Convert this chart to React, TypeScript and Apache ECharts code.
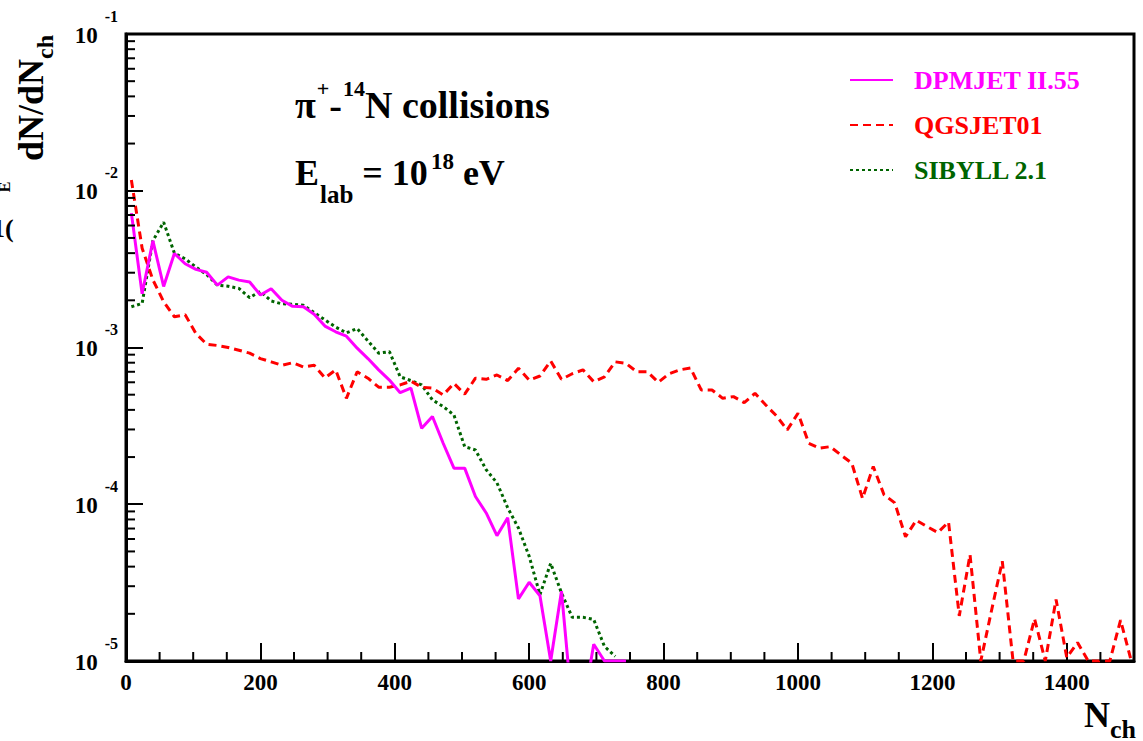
import React, { useEffect, useRef } from "react";
import * as echarts from "echarts";

const SERIF = '"Liberation Serif", "Times New Roman", serif';

// bin centres (N_ch), bin width 16
const nch = [
  8, 24, 40, 56, 72, 88, 104, 120, 136, 152,
  168, 184, 200, 216, 232, 248, 264, 280, 296, 312,
  328, 344, 360, 376, 392, 408, 424, 440, 456, 472,
  488, 504, 520, 536, 552, 568, 584, 600, 616, 632,
  648, 664, 680, 696, 712, 728, 744, 760, 776, 792,
  808, 824, 840, 856, 872, 888, 904, 920, 936, 952,
  968, 984, 1000, 1016, 1032, 1048, 1064, 1080, 1096, 1112,
  1128, 1144, 1160, 1176, 1192, 1208, 1224, 1240, 1256, 1272,
  1288, 1304, 1320, 1336, 1352, 1368, 1384, 1400, 1416, 1432,
  1448, 1464, 1480, 1496,
];

const dpmjet = [
  7.2e-3, 2.2e-3, 4.8e-3, 2.45e-3, 3.98e-3, 3.42e-3, 3.15e-3, 3.02e-3, 2.5e-3, 2.82e-3,
  2.69e-3, 2.62e-3, 2.16e-3, 2.37e-3, 2.0e-3, 1.83e-3, 1.82e-3, 1.63e-3, 1.37e-3, 1.26e-3,
  1.18e-3, 9.9e-4, 8.5e-4, 7.2e-4, 6.2e-4, 5.15e-4, 5.5e-4, 3.05e-4, 3.63e-4, 2.45e-4,
  1.7e-4, 1.7e-4, 1.12e-4, 8.8e-5, 6.3e-5, 8.2e-5, 2.49e-5, 3.18e-5, 2.61e-5, 1.0e-5,
  2.79e-5, 5e-6, 5e-6, 1.28e-5, 1.0e-5, 1.0e-5, 1.0e-5,
];

const qgsjet = [
  1.17e-2, 4.3e-3, 2.7e-3, 1.96e-3, 1.57e-3, 1.62e-3, 1.23e-3, 1.05e-3, 1.03e-3, 1.0e-3,
  9.6e-4, 9.2e-4, 8.5e-4, 8.1e-4, 7.7e-4, 8.0e-4, 7.5e-4, 7.7e-4, 6.4e-4, 7.2e-4,
  4.74e-4, 7.0e-4, 6.37e-4, 5.58e-4, 5.58e-4, 5.77e-4, 6.1e-4, 5.58e-4, 5.5e-4, 4.98e-4,
  5.9e-4, 5.04e-4, 6.37e-4, 6.27e-4, 6.68e-4, 6.15e-4, 7.37e-4, 6.2e-4, 6.58e-4, 8.2e-4,
  6.27e-4, 6.8e-4, 7.2e-4, 6.05e-4, 6.5e-4, 8.1e-4, 7.93e-4, 7.0e-4, 7.0e-4, 6.0e-4,
  6.8e-4, 7.2e-4, 7.4e-4, 5.36e-4, 5.36e-4, 4.74e-4, 4.86e-4, 4.45e-4, 5.1e-4, 4.3e-4,
  3.66e-4, 2.98e-4, 3.81e-4, 2.45e-4, 2.28e-4, 2.33e-4, 2.06e-4, 1.83e-4, 1.09e-4, 1.74e-4,
  1.15e-4, 1.02e-4, 6.2e-5, 7.9e-5, 7.2e-5, 6.6e-5, 7.7e-5, 1.94e-5, 4.77e-5, 1.0e-5,
  2.1e-5, 4.33e-5, 1.0e-5, 1.0e-5, 1.86e-5, 1.0e-5, 2.47e-5, 1.05e-5, 1.31e-5, 1.0e-5,
  1.0e-5, 1.0e-5, 1.82e-5, 1.0e-5,
];

const sibyll = [
  1.82e-3, 1.91e-3, 4.8e-3, 6.3e-3, 4.0e-3, 3.68e-3, 3.26e-3, 2.92e-3, 2.5e-3, 2.46e-3,
  2.38e-3, 2.08e-3, 2.28e-3, 1.98e-3, 1.9e-3, 1.89e-3, 1.86e-3, 1.67e-3, 1.5e-3, 1.35e-3,
  1.24e-3, 1.32e-3, 1.1e-3, 9.2e-4, 9.4e-4, 6.5e-4, 6.15e-4, 5.77e-4, 4.63e-4, 4.2e-4,
  3.71e-4, 2.33e-4, 2.22e-4, 1.66e-4, 1.37e-4, 9.5e-5, 7.05e-5, 4.65e-5, 2.65e-5, 4.2e-5,
  2.72e-5, 1.9e-5, 1.9e-5, 1.84e-5, 1.24e-5, 1.07e-5,
];

const xTickLabels = [0, 200, 400, 600, 800, 1000, 1200, 1400];
const xMinorTicks = [
  50, 100, 150, 250, 300, 350, 450, 500, 550, 650, 700, 750, 850, 900, 950,
  1050, 1100, 1150, 1250, 1300, 1350, 1450,
];
const yDecades = [1e-5, 1e-4, 1e-3, 1e-2, 1e-1];
const yMinorMultipliers = [2, 3, 4, 5, 6, 7, 8, 9];

const seriesNames = ["DPMJET II.55", "QGSJET01", "SIBYLL 2.1"];
const seriesColors = ["#ff00ff", "#ff0000", "#006400"];

function pairs(vals: number[]) {
  return vals.map((v, i) => [nch[i], v]);
}

export default function App() {
  const ref = useRef<HTMLDivElement>(null);
  useEffect(() => {
    if (!ref.current) return;
    const chart = echarts.init(ref.current, undefined, { renderer: "svg" });
    const yMinorTicks: number[] = [];
    yDecades.slice(0, -1).forEach((d) =>
      yMinorMultipliers.forEach((m) => yMinorTicks.push(m * d))
    );
    const option: any = {
      animation: false,
      backgroundColor: "#ffffff",
      grid: {
        left: 126,
        top: 34,
        width: 1008,
        height: 627,
        show: true,
        borderColor: "#000",
        borderWidth: 3,
        backgroundColor: "transparent",
      },
      xAxis: {
        type: "value",
        min: 0,
        max: 1500,
        interval: 200,
        axisLine: { show: true, lineStyle: { color: "#000", width: 3 } },
        axisTick: { show: true, inside: true, length: 18, lineStyle: { color: "#000", width: 2 } },
        axisLabel: {
          margin: 10,
          fontFamily: SERIF,
          fontWeight: "bold",
          fontSize: 23,
          color: "#000",
          formatter: (v: number) => (xTickLabels.includes(v) ? String(v) : ""),
        },
        splitLine: { show: false },
      },
      yAxis: {
        type: "log",
        logBase: 10,
        min: 1e-5,
        max: 1e-1,
        axisLine: { show: true, lineStyle: { color: "#000", width: 3 } },
        axisTick: { show: true, inside: true, length: 17, lineStyle: { color: "#000", width: 2 } },
        axisLabel: {
          margin: 8,
          color: "#000",
          formatter: (v: number) => `{b|10}{s|${Math.round(Math.log10(v))}}`,
          rich: {
            b: { fontFamily: SERIF, fontWeight: "bold", fontSize: 23, color: "#000", padding: [2, 0, 0, 0] },
            s: { fontFamily: SERIF, fontWeight: "bold", fontSize: 16, color: "#000", padding: [0, 0, 36, 7] },
          },
        },
        splitLine: { show: false },
      },
      legend: {
        orient: "vertical",
        left: 849,
        top: 67,
        padding: 0,
        itemWidth: 43,
        itemHeight: 14,
        itemGap: 19,
        selectedMode: false,
        itemStyle: { opacity: 0 },
        textStyle: { fontFamily: SERIF, fontWeight: "bold", fontSize: 26, padding: [0, 0, 0, 16] },
        data: seriesNames.map((n, i) => ({ name: n, textStyle: { color: seriesColors[i] } })),
      },
      series: [
        {
          name: seriesNames[0],
          type: "line",
          data: pairs(dpmjet),
          symbol: "none",
          z: 5,
          lineStyle: { color: seriesColors[0], width: 3, type: "solid" },
          itemStyle: { color: seriesColors[0] },
        },
        {
          name: seriesNames[1],
          type: "line",
          data: pairs(qgsjet),
          symbol: "none",
          z: 4,
          lineStyle: { color: seriesColors[1], width: 3, type: [8, 5] },
          itemStyle: { color: seriesColors[1] },
        },
        {
          name: seriesNames[2],
          type: "line",
          data: pairs(sibyll),
          symbol: "none",
          z: 3,
          lineStyle: { color: seriesColors[2], width: 3, type: [3, 3] },
          itemStyle: { color: seriesColors[2] },
        },
        {
          type: "custom",
          silent: true,
          z: 6,
          data: xMinorTicks.map((v) => [v, 1e-5]),
          renderItem: (_p: any, api: any) => {
            const p = api.coord([api.value(0), api.value(1)]);
            return {
              type: "line",
              shape: { x1: p[0], y1: p[1], x2: p[0], y2: p[1] - 9 },
              style: { stroke: "#000", lineWidth: 2 },
            };
          },
        },
        {
          type: "custom",
          silent: true,
          z: 6,
          data: yMinorTicks.map((v) => [0, v]),
          renderItem: (_p: any, api: any) => {
            const p = api.coord([api.value(0), api.value(1)]);
            return {
              type: "line",
              shape: { x1: p[0], y1: p[1], x2: p[0] + 9, y2: p[1] },
              style: { stroke: "#000", lineWidth: 2 },
            };
          },
        },
      ],
      graphic: [
        {
          type: "text",
          x: 295,
          y: 105,
          style: {
            text: "{m|π}{p|+}{m|-}{p|14}{m|N collisions}",
            verticalAlign: "middle",
            rich: {
              m: { fontFamily: SERIF, fontWeight: "bold", fontSize: 38, fill: "#000" },
              p: { fontFamily: SERIF, fontWeight: "bold", fontSize: 22, fill: "#000", padding: [0, 0, 34, 1] },
            },
          },
        },
        {
          type: "text",
          x: 295,
          y: 173,
          style: {
            text: "{m|E}{sub|lab}{m| = 10}{sup|18}{m| eV}",
            verticalAlign: "middle",
            rich: {
              m: { fontFamily: SERIF, fontWeight: "bold", fontSize: 36, fill: "#000" },
              sub: { fontFamily: SERIF, fontWeight: "bold", fontSize: 25, fill: "#000", padding: [43, 0, 0, 1] },
              sup: { fontFamily: SERIF, fontWeight: "bold", fontSize: 23, fill: "#000", padding: [0, 0, 24, 3] },
            },
          },
        },
        {
          type: "text",
          x: 1136,
          y: 715,
          style: {
            text: "{n|N}{s|ch}",
            align: "right",
            verticalAlign: "middle",
            rich: {
              n: { fontFamily: SERIF, fontWeight: "bold", fontSize: 36, fill: "#000" },
              s: { fontFamily: SERIF, fontWeight: "bold", fontSize: 26, fill: "#000", padding: [29, 0, 0, 0] },
            },
          },
        },
        {
          type: "text",
          x: 31,
          y: 98,
          rotation: Math.PI / 2,
          style: {
            text: "{m|dN/dN}{s|ch}",
            align: "center",
            verticalAlign: "middle",
            rich: {
              m: { fontFamily: SERIF, fontWeight: "bold", fontSize: 36, fill: "#000" },
              s: { fontFamily: SERIF, fontWeight: "bold", fontSize: 24, fill: "#000", padding: [28, 0, 0, 0] },
            },
          },
        },
        {
          type: "text",
          x: 4,
          y: 187,
          rotation: Math.PI / 2,
          style: {
            text: "E",
            align: "center",
            verticalAlign: "middle",
            fontFamily: SERIF,
            fontWeight: "bold",
            fontSize: 16,
            fill: "#000",
          },
        },
        {
          type: "text",
          x: -8,
          y: 228,
          style: {
            text: "1(",
            align: "left",
            verticalAlign: "middle",
            fontFamily: SERIF,
            fontWeight: "bold",
            fontSize: 26,
            fill: "#000",
          },
        },
      ],
    };
    chart.setOption(option);
    return () => chart.dispose();
  }, []);
  return (
    <div
      ref={ref}
      style={{ position: "fixed", left: 0, top: 0, width: 1143, height: 741, background: "#fff" }}
    />
  );
}
